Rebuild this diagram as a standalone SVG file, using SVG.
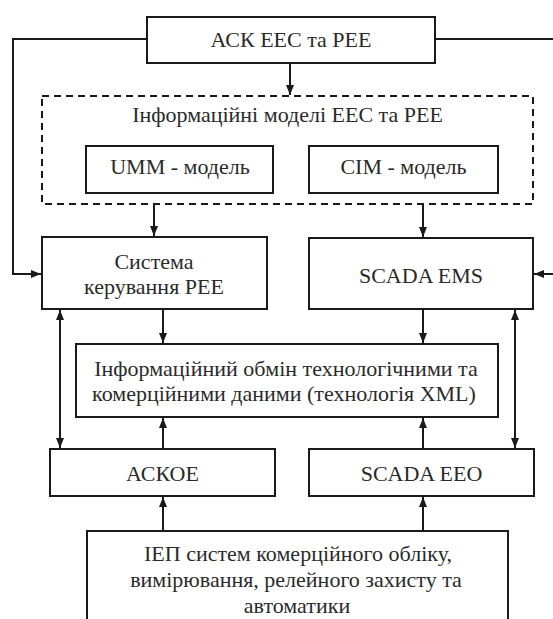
<svg xmlns="http://www.w3.org/2000/svg" width="553" height="619" viewBox="0 0 553 619">
<defs>
<style>
.box{fill:#fff;stroke:#1a1a1a;stroke-width:2}
.dash{fill:none;stroke:#1a1a1a;stroke-width:2;stroke-dasharray:7,5}
.t{font-size:22px;fill:#2a2a2a;text-anchor:middle}
.c{fill:none;stroke:#1a1a1a;stroke-width:2}
</style>
<marker id="ah" markerWidth="11" markerHeight="9" refX="10" refY="4" orient="auto" markerUnits="userSpaceOnUse">
<path d="M0,0 L10,4 L0,8 z" fill="#1a1a1a"/>
</marker>
<marker id="as" markerWidth="11" markerHeight="9" refX="0" refY="4" orient="auto" markerUnits="userSpaceOnUse">
<path d="M10,0 L0,4 L10,8 z" fill="#1a1a1a"/>
</marker>
</defs>
<rect width="553" height="619" fill="#fff"/>
<g id="connectors">
<path class="c" d="M147,39 H13 V274 H41" marker-end="url(#ah)"/>
<path class="c" d="M435,39 H553"/>
<path class="c" d="M553,274 H534" marker-end="url(#ah)"/>
<path class="c" d="M290,63 V95" marker-end="url(#ah)"/>
<path class="c" d="M154,204 V236" marker-end="url(#ah)"/>
<path class="c" d="M423,204 V237" marker-end="url(#ah)"/>
<path class="c" d="M163,309 V343" marker-end="url(#ah)"/>
<path class="c" d="M423,309 V343" marker-end="url(#ah)"/>
<path class="c" d="M60,310 V448" marker-start="url(#as)" marker-end="url(#ah)"/>
<path class="c" d="M515,310 V448" marker-start="url(#as)" marker-end="url(#ah)"/>
<path class="c" d="M163,449 V418" marker-end="url(#ah)"/>
<path class="c" d="M423,449 V418" marker-end="url(#ah)"/>
<path class="c" d="M163,531 V497" marker-end="url(#ah)"/>
<path class="c" d="M423,531 V497" marker-end="url(#ah)"/>
</g>
<g font-family="Liberation Serif, Tinos, Times New Roman, DejaVu Serif, serif">
<g id="ask">
<rect class="box" x="147" y="17" width="288" height="46"/>
<text class="t" x="291" y="47">АСК ЕЕС та РЕЕ</text>
</g>
<g id="models">
<rect class="dash" x="42" y="96" width="491" height="108"/>
<text class="t" x="287.5" y="122">Інформаційні моделі ЕЕС та РЕЕ</text>
</g>
<g id="umm">
<rect class="box" x="86" y="146" width="187" height="47"/>
<text class="t" x="180" y="174">UMM - модель</text>
</g>
<g id="cim">
<rect class="box" x="309" y="146" width="189" height="47"/>
<text class="t" x="403.5" y="174">CIM - модель</text>
</g>
<g id="sistema">
<rect class="box" x="42" y="237" width="225" height="72"/>
<text class="t" x="154" y="269">Система</text>
<text class="t" x="154" y="294">керування РЕЕ</text>
</g>
<g id="scada-ems">
<rect class="box" x="309" y="238" width="224" height="71"/>
<text class="t" x="421" y="283">SCADA EMS</text>
</g>
<g id="exchange">
<rect class="box" x="76" y="344" width="422" height="73"/>
<text class="t" x="286" y="376">Інформаційний обмін технологічними та</text>
<text class="t" x="284" y="401">комерційними даними (технологія XML)</text>
</g>
<g id="askoe">
<rect class="box" x="50" y="449" width="225" height="47"/>
<text class="t" x="162.5" y="481">АСКОЕ</text>
</g>
<g id="scada-eeo">
<rect class="box" x="309" y="449" width="225" height="47"/>
<text class="t" x="421.5" y="481">SCADA EEO</text>
</g>
<g id="iep">
<rect class="box" x="87" y="531" width="421" height="100"/>
<text class="t" x="298" y="561">ІЕП систем комерційного обліку,</text>
<text class="t" x="296" y="587">вимірювання, релейного захисту та</text>
<text class="t" x="297" y="613">автоматики</text>
</g>
</g>
</svg>
